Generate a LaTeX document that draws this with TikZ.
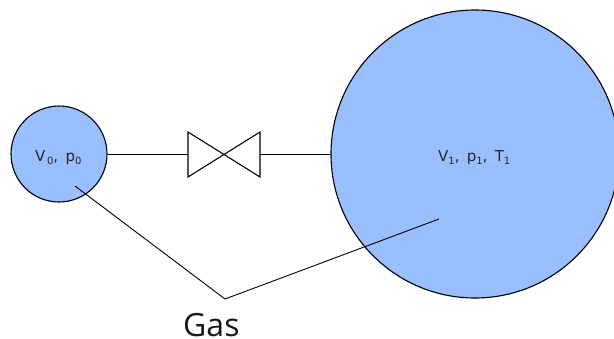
\documentclass[tikz,border=0pt]{standalone}
\usepackage{fontspec}
\setmainfont{DejaVu Sans}
\newfontfamily\gasfont{Open Sans}
\definecolor{gasblue}{HTML}{99BFFF}
\newcommand{\lowsub}[1]{\raisebox{-3pt}{\fontsize{10}{11}\selectfont #1}}
\tikzset{
  vessel/.style={circle,draw=black,fill=gasblue,line width=1.1pt,inner sep=0pt},
  valveline/.style={draw=black,line width=1.1pt,line join=miter},
  pipe/.style={draw=black,line width=0.9pt},
  leader/.style={draw=black,line width=0.9pt},
  vlabel/.style={font=\fontsize{15}{16}\selectfont,inner sep=0pt,text=black!85,anchor=base west},
}
\begin{document}
\begin{tikzpicture}[x=1pt,y=-1pt]
\useasboundingbox (0,0) rectangle (614,338);
\clip (0,0) rectangle (614,338);
\node[vessel,minimum size=96pt] (small) at (59,154) {};
\node[vessel,minimum size=288pt] (big) at (475,154) {};
\coordinate (valveL) at (188,154);
\coordinate (valveR) at (260,154);
\draw[valveline] (188,132) -- (260,177) -- (260,132) -- (188,177) -- cycle;
\draw[pipe] (small.east) -- (valveL);
\draw[pipe] (valveR) -- (big.west);
\node[vlabel] (l0) at (35,161) {V\lowsub{\,0}, \,p\lowsub{0}};
\node[vlabel] (l1) at (438,161) {V\lowsub{1}, \,p\lowsub{1}, \,T\lowsub{1}};
\coordinate (a0) at (75,186);
\coordinate (a1) at (439,219);
\coordinate (apex) at (225,299);
\draw[leader] (a0) -- (apex) -- (a1);
\node[font=\gasfont\fontsize{32}{34}\selectfont,inner sep=0pt,anchor=base west,text=black!90] (gas) at (183,336.5) {Gas};
\end{tikzpicture}
\end{document}
